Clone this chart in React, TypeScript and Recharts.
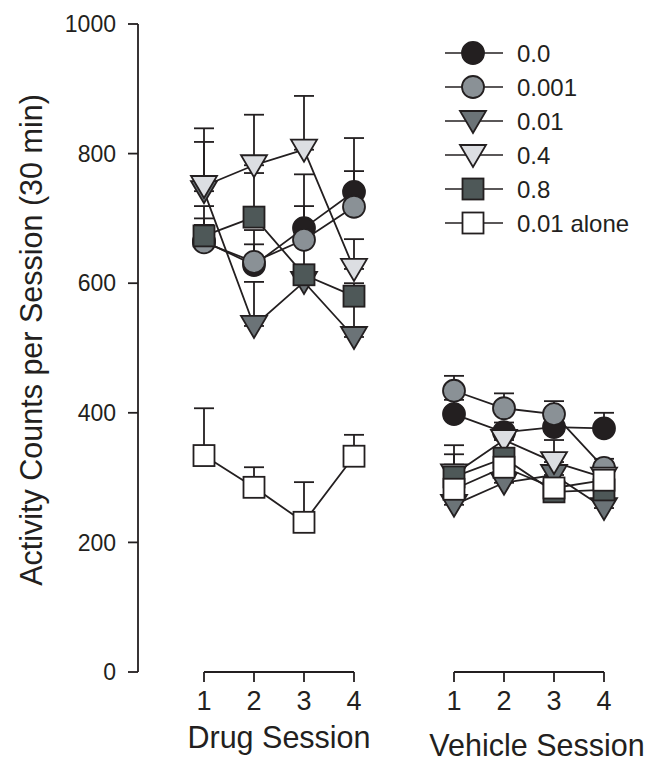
import React from 'react';
import { LineChart, Line, XAxis, YAxis, ErrorBar, ReferenceLine, Legend } from 'recharts';

const sessions = [1, 2, 3, 4];
const yTicks = [0, 200, 400, 600, 800, 1000];
const seriesNames = ['0.0', '0.001', '0.01', '0.4', '0.8', '0.01 alone'];

// Drug session means
const drug00 = [665, 628, 685, 741];
const drug001 = [663, 633, 667, 718];
const drug01 = [742, 534, 602, 517];
const drug04 = [750, 782, 806, 622];
const drug08 = [673, 702, 613, 580];
const drug01Alone = [334, 285, 231, 333];

// Drug session upper error limits
const drug00Top = [719, 660, 768, 824];
const drug001Top = [690, 682, 719, 773];
const drug01Top = [818, 602, 620, 585];
const drug04Top = [839, 860, 889, 668];
const drug08Top = [700, 770, 690, 600];
const drug01AloneTop = [407, 316, 293, 366];

// Vehicle session means
const veh00 = [398, 370, 378, 376];
const veh001 = [434, 407, 398, 315];
const veh01 = [258, 292, 304, 253];
const veh04 = [305, 358, 324, 300];
const veh08 = [301, 330, 278, 281];
const veh01Alone = [282, 316, 284, 296];

// Vehicle session upper error limits
const veh00Top = [420, 385, 395, 400];
const veh001Top = [457, 430, 418, 320];
const veh01Top = [270, 300, 315, 265];
const veh04Top = [320, 370, 358, 310];
const veh08Top = [336, 340, 290, 290];
const veh01AloneTop = [350, 335, 295, 329];

const INK = '#231f20';
const FONT = '"Liberation Sans", Arial, Helvetica, sans-serif';

const seriesStyles = [
  { key: 's0', shape: 'circle', fill: '#231f20' },
  { key: 's1', shape: 'circle', fill: '#8a9196' },
  { key: 's2', shape: 'triangle', fill: '#6b7377' },
  { key: 's3', shape: 'triangle', fill: '#dcdee2' },
  { key: 's4', shape: 'square', fill: '#4e5858' },
  { key: 's5', shape: 'square', fill: '#ffffff' },
];

function buildData(means: number[][], tops: number[][]) {
  return sessions.map((s, i) => {
    const row: any = { session: s };
    means.forEach((m, k) => {
      row['s' + k] = m[i];
      row['e' + k] = [0, tops[k][i] - m[i]];
    });
    return row;
  });
}

const drugData = buildData(
  [drug00, drug001, drug01, drug04, drug08, drug01Alone],
  [drug00Top, drug001Top, drug01Top, drug04Top, drug08Top, drug01AloneTop]
);
const vehData = buildData(
  [veh00, veh001, veh01, veh04, veh08, veh01Alone],
  [veh00Top, veh001Top, veh01Top, veh04Top, veh08Top, veh01AloneTop]
);

function Marker({ cx, cy, shape, fill }: any) {
  if (cx == null || cy == null) return null;
  if (shape === 'circle') {
    return <circle cx={cx} cy={cy} r={11} fill={fill} stroke={INK} strokeWidth={1.8} />;
  }
  if (shape === 'square') {
    return <rect x={cx - 10.5} y={cy - 10.5} width={21} height={21} fill={fill} stroke={INK} strokeWidth={1.8} />;
  }
  return (
    <polygon
      points={`${cx - 13},${cy - 10} ${cx + 13},${cy - 10} ${cx},${cy + 12}`}
      fill={fill}
      stroke={INK}
      strokeWidth={1.8}
      strokeLinejoin="miter"
    />
  );
}

function renderSeries(prefix: string) {
  return seriesStyles.map((st, k) => (
    <Line
      key={prefix + st.key}
      dataKey={st.key}
      name={seriesNames[k]}
      type="linear"
      stroke={INK}
      strokeWidth={1.8}
      isAnimationActive={false}
      activeDot={false}
      dot={(p: any) => <Marker key={prefix + st.key + '-' + p.index} cx={p.cx} cy={p.cy} shape={st.shape} fill={st.fill} />}
    >
      <ErrorBar dataKey={'e' + k} direction="y" width={10} stroke={INK} strokeWidth={1.8} />
    </Line>
  ));
}

function LegendContent() {
  const rowH = 34;
  return (
    <svg width={200} height={rowH * seriesNames.length} style={{ display: 'block', overflow: 'visible' }}>
      {seriesStyles.map((st, k) => {
        const y = rowH / 2 + k * rowH;
        return (
          <g key={st.key}>
            <line x1={0} y1={y} x2={58} y2={y} stroke={INK} strokeWidth={1.5} />
            <Marker cx={28} cy={y} shape={st.shape} fill={st.fill} />
            <text x={72} y={y} dominantBaseline="central" fontSize={24} fontFamily={FONT} fill={INK}>
              {seriesNames[k]}
            </text>
          </g>
        );
      })}
    </svg>
  );
}

const xTickStyle = { fontSize: 27, fill: INK, fontFamily: FONT };
const yTickStyle = { fontSize: 23, fill: INK, fontFamily: FONT };
const TITLE = 30.5;

export default function App() {
  return (
    <div style={{ position: 'absolute', left: 0, top: 0, width: 649, height: 763, background: '#fff' }}>
      <div style={{ position: 'absolute', left: 0, top: 0 }}>
        <LineChart width={400} height={763} data={drugData} margin={{ top: 24, right: 0, bottom: 0, left: 0 }}>
          <YAxis
            type="number"
            domain={[0, 1000]}
            ticks={yTicks}
            width={138}
            tickSize={10}
            tickMargin={12}
            axisLine={{ stroke: INK, strokeWidth: 1.8 }}
            tickLine={{ stroke: INK, strokeWidth: 1.8 }}
            tick={yTickStyle}
            label={(props: any) => (
              <text
                x={31}
                y={340}
                transform="rotate(-90 31 340)"
                textAnchor="middle"
                dominantBaseline="central"
                fontSize={TITLE}
                fontFamily={FONT}
                fill={INK}
              >
                Activity Counts per Session (30 min)
              </text>
            )}
          />
          <XAxis
            dataKey="session"
            type="number"
            domain={[1, 4]}
            ticks={sessions}
            padding={{ left: 66, right: 46 }}
            height={91}
            axisLine={false}
            tickSize={10}
            tickMargin={9}
            tickLine={{ stroke: INK, strokeWidth: 1.8 }}
            tick={xTickStyle}
            label={(props: any) => (
              <text x={279} y={737} textAnchor="middle" dominantBaseline="central" fontSize={TITLE} fontFamily={FONT} fill={INK}>
                Drug Session
              </text>
            )}
          />
          <ReferenceLine
            segment={[{ x: 1, y: 0 }, { x: 4, y: 0 }]}
            stroke={INK}
            strokeWidth={1.8}
            ifOverflow="visible"
          />
          {renderSeries('d')}
        </LineChart>
      </div>
      <div style={{ position: 'absolute', left: 400, top: 0 }}>
        <LineChart width={249} height={763} data={vehData} margin={{ top: 24, right: 0, bottom: 0, left: 0 }}>
          <YAxis type="number" domain={[0, 1000]} ticks={yTicks} hide />
          <XAxis
            dataKey="session"
            type="number"
            domain={[1, 4]}
            ticks={sessions}
            padding={{ left: 54, right: 45 }}
            height={91}
            axisLine={false}
            tickSize={10}
            tickMargin={9}
            tickLine={{ stroke: INK, strokeWidth: 1.8 }}
            tick={xTickStyle}
            label={(props: any) => (
              <text x={137} y={745} textAnchor="middle" dominantBaseline="central" fontSize={TITLE} fontFamily={FONT} fill={INK}>
                Vehicle Session
              </text>
            )}
          />
          <ReferenceLine
            segment={[{ x: 1, y: 0 }, { x: 4, y: 0 }]}
            stroke={INK}
            strokeWidth={1.8}
            ifOverflow="visible"
          />
          <Legend
            layout="vertical"
            align="center"
            verticalAlign="middle"
            content={() => <LegendContent />}
            wrapperStyle={{ position: 'absolute', left: 45, top: 36, width: 200, height: 204 }}
          />
          {renderSeries('v')}
        </LineChart>
      </div>
    </div>
  );
}
